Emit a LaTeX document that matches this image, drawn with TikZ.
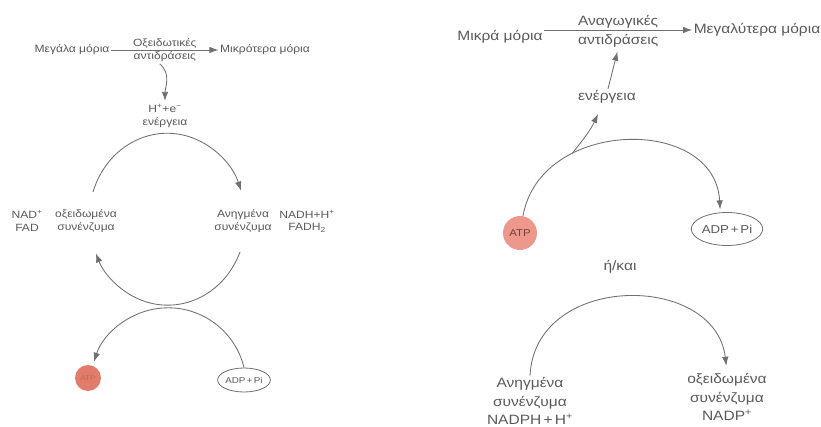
\documentclass[tikz,border=0pt]{standalone}
\usepackage{fontspec}
\setmainfont[FakeStretch=1.15]{Liberation Sans}
\usetikzlibrary{arrows.meta,shapes.geometric}
\definecolor{txt}{HTML}{5A5A5A}
\definecolor{ln}{HTML}{707070}
\definecolor{atpA}{HTML}{E27C6A}
\definecolor{atpB}{HTML}{EE978B}
\begin{document}
\begin{tikzpicture}[x=1pt,y=-1pt,
  lt/.style={text=txt, font=\fontsize{10.5}{12.5}\selectfont, inner sep=1.5pt, align=center},
  rt/.style={text=txt, font=\fontsize{13.5}{18.5}\selectfont, inner sep=1.5pt, align=center},
  arr/.style={draw=ln, line width=0.85pt, -{Latex[length=9pt,width=6.5pt]}},
  adpbox/.style={draw=ln, line width=0.8pt, ellipse, inner sep=0pt, text=txt, align=center}]
\useasboundingbox[fill=white] (0,0) rectangle (821,427);

% ---------------- left panel ----------------
\node[lt] (big) at (72,50) {Μεγάλα μόρια};
\node[lt] (smaller) at (265,50) {Μικρότερα μόρια};
\draw[arr] (big.east) -- (smaller.west)
  node[lt, midway, above] (oxa) {Οξειδωτικές}
  node[lt, midway, below] (oxb) {αντιδράσεις};
\node[lt] (he) at (165,116) {H\textsuperscript{+}+e\textsuperscript{−}\\ενέργεια};
\draw[arr, shorten >=2pt] ([xshift=-5pt]oxb.south) to[out=-40, in=90] (he.north);

\node[lt] (nad) at (27,221) {NAD\textsuperscript{+}\\FAD};
\node[lt] (oxL) at (86,221) {οξειδωμένα\\συνένζυμα};
\node[lt] (redL) at (243,221) {Ανηγμένα\\συνένζυμα};
\node[lt] (nadh) at (307,221) {NADH+H\textsuperscript{+}\\FADH\textsubscript{2}};

\coordinate (c1) at (93,192);
\coordinate (c3) at (240,252);
\draw[arr] (c1) arc[start angle=-162, end angle=-19, x radius=78, y radius=85];
\draw[arr] (c3) arc[start angle=22, end angle=157, x radius=78, y radius=85];

\node[circle, fill=atpA, minimum size=26pt, inner sep=0pt, text=atpA!85!black, font=\fontsize{7}{8}\selectfont] (atpL) at (88,378) {ATP};
\node[adpbox, minimum width=45pt, minimum height=24pt, font=\fontsize{8.5}{10}\selectfont] (adpL) at (244,380) {ADP\,+\,Pi};
\draw[arr] (adpL.north) arc[start angle=-13.5, end angle=-162, radius=78];

% ---------------- right panel ----------------
\node[rt] (mik) at (500,37) {Μικρά μόρια};
\node[rt] (meg) at (757,30) {Μεγαλύτερα μόρια};
\draw[arr] (mik.east |- meg.west) -- (meg.west)
  node[rt, midway, above] (anag) {Αναγωγικές}
  node[rt, midway, below, yshift=-2pt] (antid) {αντιδράσεις};

\node[circle, fill=atpB, minimum size=34pt, inner sep=0pt, text=atpB!45!black, font=\fontsize{10}{12}\selectfont] (atpR) at (520,233) {ATP};
\node[adpbox, minimum width=61pt, minimum height=33pt, font=\fontsize{11.5}{13}\selectfont] (adpR) at (727,229) {ADP\,+\,Pi};
\draw[arr, shorten >=3pt] (atpR.80) .. controls (540,118) and (715,115) .. (adpR.112)
  coordinate[pos=0.3] (e0);

\node[rt, fill=white] (ener) at (607,97) {ενέργεια};
\coordinate (e1) at (598,114);
\draw[arr] (e0) to[out=52, in=245] (e1);
\draw[arr, shorten >=3pt] ([xshift=1pt]ener.north) -- (antid.south);

\node[rt] (or) at (620,267) {ή/και};

\node[rt] (redR) at (530,401) {Ανηγμένα\\συνένζυμα\\NADPH\,+\,H\textsuperscript{+}};
\node[rt] (oxR) at (727,397) {οξειδωμένα\\συνένζυμα\\NADP\textsuperscript{+}};
\draw[arr, shorten >=6pt] (redR.north) .. controls (535,272) and (715,272) .. (oxR.north);
\end{tikzpicture}
\end{document}
